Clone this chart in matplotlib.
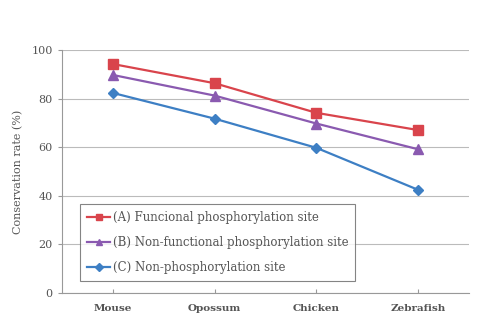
import matplotlib.pyplot as plt

species = ['Mouse', 'Opossum', 'Chicken', 'Zebrafish']
func_site = [94.3, 86.4, 74.2, 67.1]
nonfunc_site = [89.8, 81.3, 69.8, 59.2]
non_phos = [82.4, 71.8, 59.8, 42.5]

labels = ['(A) Funcional phosphorylation site',
          '(B) Non-functional phosphorylation site',
          '(C) Non-phosphorylation site']

plt.rcParams['font.family'] = ['DejaVu Serif']

fig = plt.figure(figsize=(4.83, 3.3), dpi=100)
ax = fig.add_axes([0.128, 0.112, 0.843, 0.736])

x = list(range(len(species)))
ax.plot(x, func_site, '-s', color='#d9444c', ms=6.5, lw=1.6, label=labels[0])
ax.plot(x, nonfunc_site, '-^', color='#8a5ab0', ms=6.5, lw=1.6, label=labels[1])
ax.plot(x, non_phos, '-D', color='#3d7fc4', ms=5.5, lw=1.6, label=labels[2])

ax.set_xlim(-0.5, 3.5)
ax.set_ylim(0, 100)
ax.set_yticks(range(0, 101, 20))
ax.set_xticks(x)
ax.set_xticklabels(species, fontsize=7.5, fontweight='bold', color='#555555')
ax.tick_params(axis='y', labelsize=8, colors='#555555', length=3, color='#999999')
ax.tick_params(axis='x', length=3, direction='in', color='#999999', pad=8)
ax.yaxis.grid(True, color='#bbbbbb', lw=0.8)
ax.set_axisbelow(True)
for s in ['top', 'right']:
    ax.spines[s].set_visible(False)
for s in ['left', 'bottom']:
    ax.spines[s].set_color('#999999')
ax.set_ylabel('Conservation rate (%)', fontsize=8, color='#555555', labelpad=6)

leg = ax.legend(loc='lower left', bbox_to_anchor=(0.035, 0.035), fontsize=8.5,
                frameon=True, fancybox=False, edgecolor='#666666',
                handlelength=2.0, handletextpad=0.2, labelspacing=1.0,
                markerscale=0.7, borderpad=0.6, borderaxespad=0.3)
leg.get_frame().set_linewidth(0.8)
for t in leg.get_texts():
    t.set_color('#555555')

plt.savefig('out.png', dpi=100)
